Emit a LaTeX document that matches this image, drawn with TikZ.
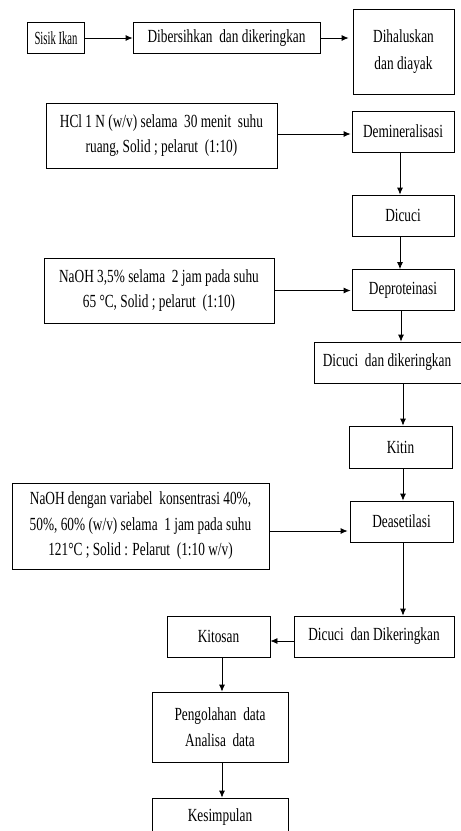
\documentclass[tikz,border=0pt]{standalone}
\usepackage{fontspec}
\setmainfont{Liberation Serif}[FakeStretch=0.72]
\usetikzlibrary{arrows.meta,calc}
\begin{document}
\begin{tikzpicture}[x=1pt,y=-1pt,
  box/.style={draw=black,line width=0.8pt,rectangle,inner sep=0pt,align=center,
    font=\fontsize{18.5}{25.5}\selectfont},
  arr/.style={draw=black,line width=0.8pt,-{Latex[length=7pt,width=6pt]}}]
\useasboundingbox (0,0) rectangle (461,831);
\clip (0,0) rectangle (461,831);
\fill[white] (0,0) rectangle (461,831);
\node[box,minimum width=57pt,minimum height=31pt] (sisik) at (56,38) {\scalebox{0.8}[1]{Sisik Ikan}};
\node[box,minimum width=187pt,minimum height=31pt] (bersih) at (226.5,38) {Dibersihkan~ dan dikeringkan};
\node[box,minimum width=101pt,minimum height=85pt,font=\fontsize{18.5}{27}\selectfont] (halus) at (403.5,52) {Dihaluskan\\dan diayak};
\node[box,minimum width=231pt,minimum height=65pt] (hcl) at (161.5,135.5) {HCl 1 N (w/v) selama~ 30 menit~ suhu\\ruang, Solid ; pelarut~ (1:10)};
\node[box,minimum width=102pt,minimum height=41pt] (demin) at (403,131.5) {Demineralisasi};
\node[box,minimum width=102pt,minimum height=41pt] (cuci1) at (403,215.5) {Dicuci};
\node[box,minimum width=230pt,minimum height=65pt] (naoh1) at (159,290.5) {NaOH 3,5\% selama~ 2 jam pada suhu\\65 °C, Solid ; pelarut~ (1:10)};
\node[box,minimum width=102pt,minimum height=41pt] (deprot) at (403,290) {Deproteinasi};
\node[box,minimum width=150pt,minimum height=41pt] (cuci2) at (389,362.5) {Dicuci~ dan dikeringkan\hspace*{4pt}};
\node[box,minimum width=103pt,minimum height=42pt] (kitin) at (400.5,447) {Kitin};
\node[box,minimum width=103pt,minimum height=41pt] (deas) at (401.5,521.5) {Deasetilasi};
\node[box,minimum width=257pt,minimum height=86pt] (naoh2) at (140.5,526) {NaOH dengan variabel~ konsentrasi 40\%,\\50\%, 60\% (w/v) selama~ 1 jam pada suhu\\121°C ; Solid : Pelarut~ (1:10 w/v)};
\node[box,minimum width=160pt,minimum height=41pt] (cuci3) at (374,636.5) {Dicuci~ dan Dikeringkan};
\node[box,minimum width=103pt,minimum height=41pt] (kitosan) at (218.5,636.5) {Kitosan};
\node[box,minimum width=136pt,minimum height=70pt] (olah) at (220,727) {Pengolahan~ data\\Analisa~ data};
\node[box,minimum width=136pt,minimum height=38pt] (simpul) at (220,817) {Kesimpulan};
\draw[arr] (sisik.east) -- (bersih.west);
\draw[arr] (bersih.east) -- ([xshift=-4pt]bersih.east -| halus.west);
\draw[arr] ([yshift=1.5pt]hcl.east) -- ([yshift=1.5pt,xshift=-1pt]hcl.east -| demin.west);
\draw[arr] ([xshift=-3pt]demin.south) -- ([xshift=-3pt]cuci1.north);
\draw[arr] ([xshift=-3pt]cuci1.south) -- ([xshift=-3pt]deprot.north);
\draw[arr] (naoh1.east) -- ([xshift=-1pt]naoh1.east -| deprot.west);
\draw[arr] ([xshift=-2pt]deprot.south) -- ([xshift=-2pt]deprot.south |- cuci2.north);
\draw[arr] (cuci2.south -| kitin.south) ++(2.5pt,0) -- ([xshift=2.5pt]kitin.north);
\draw[arr] ([xshift=2.5pt]kitin.south) -- ([xshift=1.5pt]deas.north);
\draw[arr] ([yshift=-5pt]naoh2.east) -- ([yshift=-5pt,xshift=-2pt]naoh2.east -| deas.west);
\draw[arr] ([xshift=1.5pt]deas.south) -- ([xshift=1.5pt]deas.south |- cuci3.north);
\draw[arr] ([yshift=-4.5pt]cuci3.west) -- ([yshift=-4.5pt]kitosan.east);
\draw[arr] ([xshift=3.5pt]kitosan.south) -- ([xshift=2pt]olah.north);
\draw[arr] ([xshift=2pt]olah.south) -- ([xshift=2pt]simpul.north);
\end{tikzpicture}
\end{document}
